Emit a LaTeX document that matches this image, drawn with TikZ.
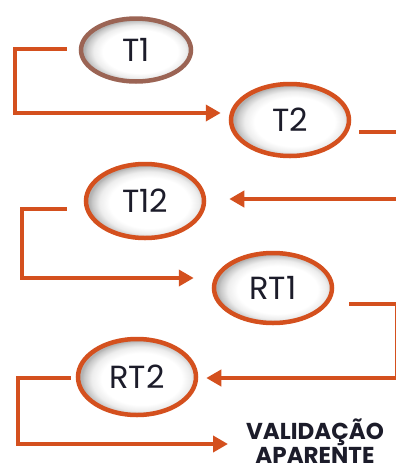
\documentclass[tikz,border=0pt]{standalone}
\usepackage{fontspec}
\setmainfont{Poppins}
\usetikzlibrary{arrows.meta,shapes.geometric,calc}
\definecolor{lineor}{HTML}{D4501E}
\definecolor{brownb}{HTML}{9B6454}
\definecolor{txt}{HTML}{1C1C2A}
\pgfdeclareradialshading{glow}{\pgfpoint{3bp}{-2bp}}{color(0bp)=(white); color(17bp)=(white); color(21bp)=(black!7); color(24bp)=(black!22); color(25bp)=(black!30); color(50bp)=(black!30)}
\tikzset{
  oval/.style={ellipse, draw=lineor, line width=4.5pt, shading=glow, inner sep=0pt,
    font=\fontsize{32}{34}\selectfont, text=txt},
  conn/.style={draw=lineor, line width=4pt, -{Triangle[length=15pt,width=16pt]}}
}
\begin{document}
\begin{tikzpicture}[x=1pt,y=-1pt]
\useasboundingbox (0,0) rectangle (396,472);
\clip (0,0) rectangle (396,472);
\node[oval, draw=brownb, minimum width=110pt, minimum height=63pt] (T1) at (136,50) {T1};
\node[oval, minimum width=118pt, minimum height=72pt] (T2) at (290,120) {T2};
\node[oval, minimum width=118pt, minimum height=74pt] (T12) at (145,201) {T12};
\node[oval, minimum width=118pt, minimum height=70pt] (RT1) at (273,288) {RT1};
\node[oval, minimum width=118pt, minimum height=76pt] (RT2) at (137,377) {RT2};
\node[font=\bfseries\fontsize{23}{24}\selectfont, text=txt, align=center, inner sep=0pt] (V) at (315,441) {VALIDAÇÃO\\APARENTE};
\coordinate (Vtip) at (228,444);
% T1 -> T2
\draw[conn] ([shift={(-12,-1)}]T1.west) -- ++(-52,0) |- ([shift={(-8,-7)}]T2.west);
% T2 -> T12
\draw[conn] ([shift={(8,12)}]T2.east) -- (401,132) |- ([shift={(23,-2)}]T12.east);
% T12 -> RT1
\draw[conn] ([shift={(-17,8)}]T12.west) -- (22,209) |- ([shift={(-18,-10)}]RT1.west);
% RT1 -> RT2
\draw[conn] ([shift={(15,16)}]RT1.east) -- (397,304) |- ([shift={(8,1)}]RT2.east);
% RT2 -> text
\draw[conn] ([shift={(-5,1)}]RT2.west) -- (18,378) |- (Vtip);
\end{tikzpicture}
\end{document}
